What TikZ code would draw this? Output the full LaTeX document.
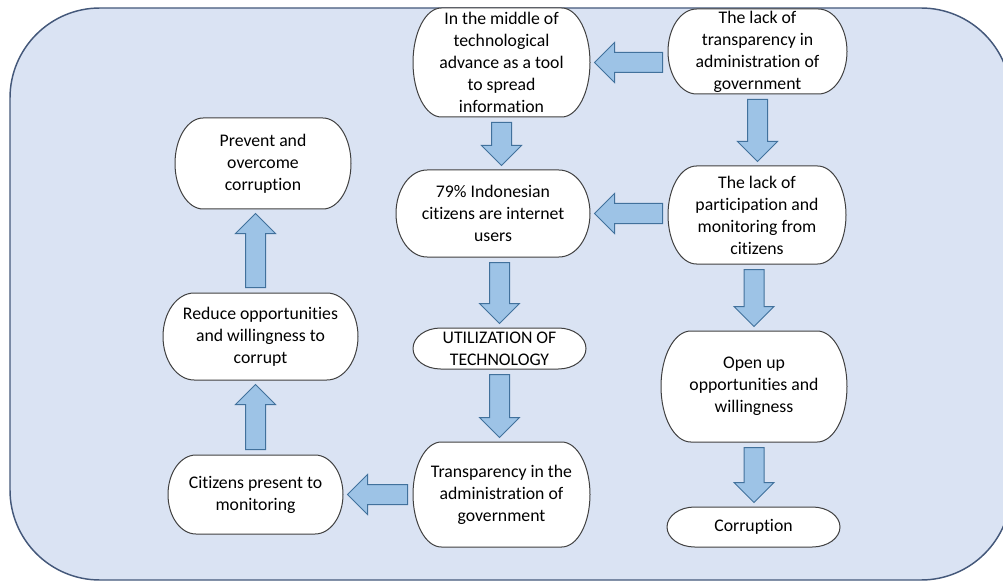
\documentclass[tikz,border=0pt]{standalone}
\usepackage{fontspec}
\setmainfont{Carlito}[Ligatures=NoCommon]
\usetikzlibrary{calc}

\definecolor{panelfill}{RGB}{218,227,243}
\definecolor{paneldraw}{RGB}{68,88,122}
\definecolor{arrowfill}{RGB}{157,195,230}
\definecolor{arrowdraw}{RGB}{65,113,156}
\definecolor{boxdraw}{RGB}{64,64,64}

\tikzset{every picture/.style={line width=0.75pt}}
\tikzset{
  panel/.style={draw=paneldraw, fill=panelfill, line width=1.1pt, rounded corners=67.5pt},
  termbox/.style={draw=boxdraw, fill=white, line width=0.75pt},
  termtext/.style={inner sep=0pt, align=center, font=\fontsize{13.3pt}{16.5pt}\selectfont},
  blockarr/.style={draw=arrowdraw, fill=arrowfill, line width=0.75pt, line join=miter},
}

% terminator shape and its text node: name, x, y, width, height, text
\newcommand{\termnode}[6]{%
  \draw[termbox] ({#2+0.34*#4},{#3-#5/2}) -- ({#2-0.34*#4},{#3-#5/2})
    arc[start angle=-90, end angle=-270, x radius={0.16*#4}, y radius={#5/2}]
    -- ({#2+0.34*#4},{#3+#5/2})
    arc[start angle=90, end angle=-90, x radius={0.16*#4}, y radius={#5/2}] -- cycle;
  \node[termtext, minimum width={#4*0.75pt}, minimum height={#5*0.75pt}] (#1) at (#2,#3) {#6};
}

% block arrow from one anchor to another
\newcommand{\blockarrow}[2]{%
  \coordinate (ba-a) at (#1);
  \coordinate (ba-b) at (#2);
  \coordinate (ba-s) at ($(ba-a)!3.75pt!(ba-b)$);
  \coordinate (ba-t) at ($(ba-b)!3pt!(ba-a)$);
  \coordinate (ba-h) at ($(ba-t)!15pt!(ba-s)$);
  \draw[blockarr] ($(ba-s)!7.5pt!90:(ba-t)$) -- ($(ba-h)!7.5pt!-90:(ba-s)$) -- ($(ba-h)!15pt!-90:(ba-s)$) -- (ba-t)
    -- ($(ba-h)!15pt!90:(ba-s)$) -- ($(ba-h)!7.5pt!90:(ba-s)$) -- ($(ba-s)!7.5pt!-90:(ba-t)$) -- cycle;
}

\begin{document}
\begin{tikzpicture}[x=0.75pt,y=0.75pt,yscale=-1,xscale=1]
\useasboundingbox (0,0) rectangle (1003,581);

%Shape: Rounded Rect [panel]
\draw[panel] (10,8) rectangle (1011,580);

%Shape: Terminators
\termnode{tech}{501.5}{62.5}{177}{109}{In the middle of\\technological\\advance as a tool\\to spread\\information}
\termnode{lackTrans}{757.5}{51.5}{179}{85}{The lack of\\transparency in\\administration of\\government}
\termnode{users}{493}{213.5}{194}{87}{79\% Indonesian\\citizens are internet\\users}
\termnode{lackPart}{757}{215}{178}{98}{The lack of\\participation and\\monitoring from\\citizens}
\termnode{prevent}{263}{163.5}{176}{91}{Prevent and\\overcome\\corruption}
\termnode{reduce}{260.5}{336.5}{195}{87}{Reduce opportunities\\and willingness to\\corrupt}
\termnode{util}{499.5}{348.5}{173}{41}{UTILIZATION OF\\TECHNOLOGY}
\termnode{openUp}{754}{386.5}{186}{111}{Open up\\opportunities and\\willingness}
\termnode{present}{255.5}{494.5}{175}{79}{Citizens present to\\monitoring}
\termnode{transp}{501.5}{494.5}{177}{105}{Transparency in the\\administration of\\government}
\termnode{corrupt}{753.5}{527}{173}{40}{Corruption}

%Block Arrows
\blockarrow{lackTrans.west |- tech.east}{tech.east}
\blockarrow{lackTrans.south}{lackTrans.south |- lackPart.north}
\blockarrow{lackPart.west |- users.east}{users.east}
\blockarrow{tech.south}{tech.south |- users.north}
\blockarrow{util.north |- users.south}{util.north}
\blockarrow{util.south}{util.south |- transp.north}
\blockarrow{openUp.north |- lackPart.south}{openUp.north}
\blockarrow{openUp.south}{openUp.south |- corrupt.north}
\blockarrow{transp.west}{present.east}
\blockarrow{present.north}{present.north |- reduce.south}
\blockarrow{present.north |- reduce.north}{present.north |- prevent.south}

\end{tikzpicture}
\end{document}
